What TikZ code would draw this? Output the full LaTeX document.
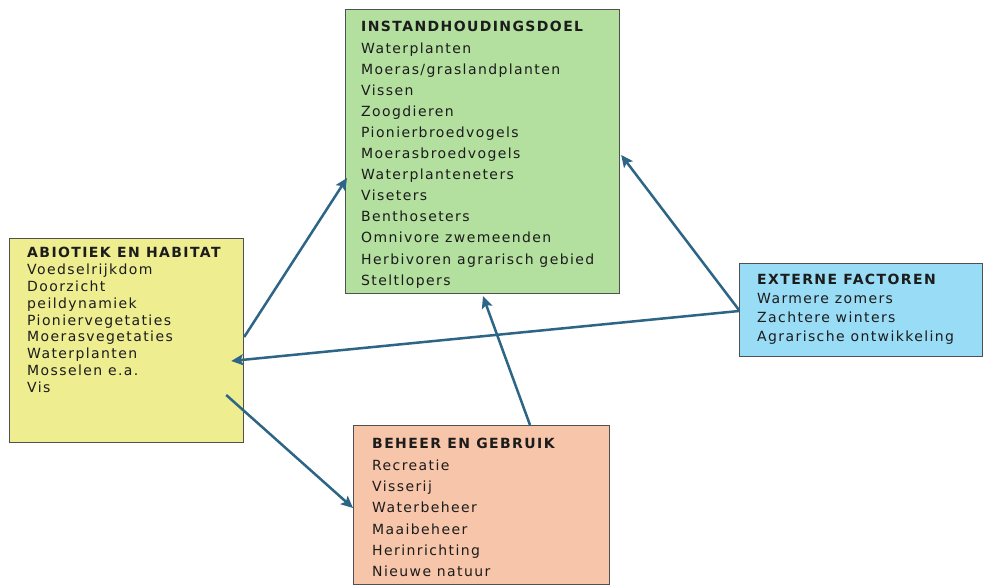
\documentclass[tikz,border=0pt]{standalone}
\usepackage{fontspec}
\setmainfont{DejaVu Sans}[LetterSpace=10]
\usetikzlibrary{arrows.meta,calc}
\definecolor{greenfill}{HTML}{B3DF9F}
\definecolor{yellowfill}{HTML}{EEEE91}
\definecolor{salmonfill}{HTML}{F7C5A9}
\definecolor{bluefill}{HTML}{99DCF5}
\definecolor{boxline}{HTML}{505050}
\definecolor{arrowcol}{HTML}{2C6585}
\definecolor{txt}{HTML}{1C1C1C}
\tikzset{
  panel/.style={draw=boxline, line width=1.2pt, rectangle, inner sep=0pt, anchor=north west},
  itemtext/.style={anchor=base west, inner sep=0pt, text=txt, font=\fontsize{14}{16}\selectfont},
  headtext/.style={itemtext, font=\fontsize{14}{16}\selectfont\bfseries},
  link/.style={draw=arrowcol, line width=2.5pt, -{Stealth[length=12pt,width=11pt,inset=2.5pt]}}
}
\begin{document}
\begin{tikzpicture}[x=1pt,y=-1pt]
\useasboundingbox (0,0) rectangle (986,585);
\fill[white] (0,0) rectangle (986,585);

% boxes
\node[panel, fill=greenfill, minimum width=274pt, minimum height=284pt] (goal) at (345,9) {};
\node[panel, fill=yellowfill, minimum width=234pt, minimum height=204pt] (abio) at (9,238) {};
\node[panel, fill=salmonfill, minimum width=256pt, minimum height=159pt] (beh) at (353,425) {};
\node[panel, fill=bluefill, minimum width=243pt, minimum height=93pt] (ext) at (739,263) {};

% texts: goal
\node[headtext] (gh) at (361,32) {INSTANDHOUDINGSDOEL};
\foreach \t [count=\i] in {Waterplanten,Moeras/graslandplanten,Vissen,Zoogdieren,Pionierbroedvogels,Moerasbroedvogels,Waterplanteneters,Viseters,Benthoseters,Omnivore zwemeenden,Herbivoren agrarisch gebied,Steltlopers}
  \node[itemtext] (g\i) at (361,32+21.1*\i) {\t};

% texts: abiotiek
\node[headtext] (ah) at (27,258) {ABIOTIEK EN HABITAT};
\foreach \t [count=\i] in {Voedselrijkdom,Doorzicht,peildynamiek,Pioniervegetaties,Moerasvegetaties,Waterplanten,Mosselen e.a.,Vis}
  \node[itemtext] (a\i) at (27,258+16.8*\i) {\t};

% texts: beheer
\node[headtext] (bh) at (372,449) {BEHEER EN GEBRUIK};
\foreach \t [count=\i] in {Recreatie,Visserij,Waterbeheer,Maaibeheer,Herinrichting,Nieuwe natuur}
  \node[itemtext] (b\i) at (372,449+21.3*\i) {\t};

% texts: externe
\node[headtext] (eh) at (757,285) {EXTERNE FACTOREN};
\foreach \t [count=\i] in {Warmere zomers,Zachtere winters,Agrarische ontwikkeling}
  \node[itemtext] (e\i) at (757,285+19*\i) {\t};

% connectors
\draw[link] ($(abio.north east)+(0,99)$) -- ($(goal.north west)+(2,169)$);
\draw[link] ($(ext.north west)+(0,48)$) -- ($(abio.north east)+(-13,123)$);
\draw[link] ($(abio.north east)+(-18,157)$) -- ($(beh.north west)+(0,83)$);
\draw[link] ($(beh.north west)+(177,0)$) -- ($(goal.south west)+(138,2)$);
\draw[link] ($(ext.north west)+(0,47)$) -- ($(goal.north east)+(1,146)$);
\end{tikzpicture}
\end{document}
